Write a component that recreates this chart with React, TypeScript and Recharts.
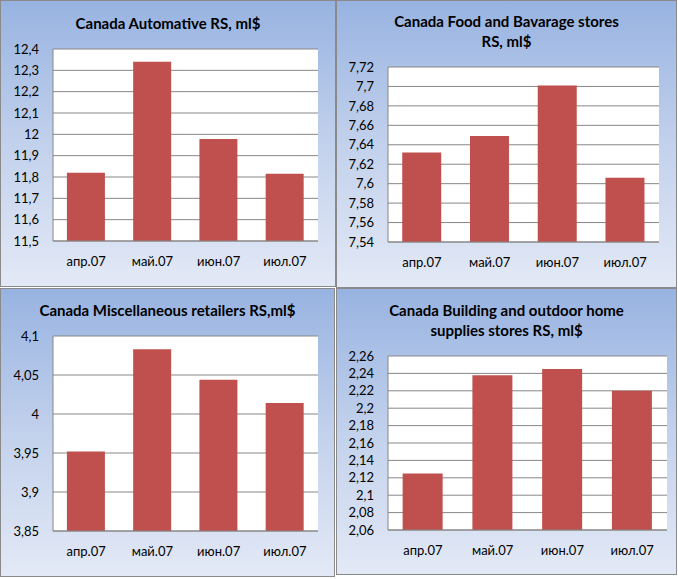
import React from "react";
import { BarChart, Bar, XAxis, YAxis, CartesianGrid } from "recharts";

const months = ["апр.07", "май.07", "июн.07", "июл.07"];

const automotiveValues = [11.82, 12.34, 11.978, 11.815];
const foodValues = [7.632, 7.649, 7.701, 7.606];
const miscValues = [3.952, 4.083, 4.044, 4.014];
const buildingValues = [2.125, 2.238, 2.245, 2.22];

const automotiveTicks = [11.5, 11.6, 11.7, 11.8, 11.9, 12, 12.1, 12.2, 12.3, 12.4];
const foodTicks = [7.54, 7.56, 7.58, 7.6, 7.62, 7.64, 7.66, 7.68, 7.7, 7.72];
const miscTicks = [3.85, 3.9, 3.95, 4, 4.05, 4.1];
const buildingTicks = [2.06, 2.08, 2.1, 2.12, 2.14, 2.16, 2.18, 2.2, 2.22, 2.24, 2.26];

const automotiveTitle = ["Canada Automative RS, ml$"];
const foodTitle = ["Canada Food and Bavarage stores", "RS, ml$"];
const miscTitle = ["Canada Miscellaneous retailers RS,ml$"];
const buildingTitle = ["Canada Building and outdoor home", "supplies stores RS, ml$"];

const FONT = "Lato, 'Open Sans', sans-serif";
const BAR_COLOR = "#c0504d";
const GRID = "#878787";

const fmt = (v: number) => String(v).replace(".", ",");

type PanelProps = {
  left: number;
  top: number;
  width: number;
  height: number;
  title: string[];
  titleTop: number;
  values: number[];
  ticks: number[];
  margin: { top: number; right: number; left: number; bottom: number };
  yWidth: number;
  xHeight: number;
};

function Panel(p: PanelProps) {
  const data = months.map((m, i) => ({ month: m, value: p.values[i] }));
  const domain: [number, number] = [p.ticks[0], p.ticks[p.ticks.length - 1]];
  return (
    <div
      style={{
        position: "absolute",
        left: p.left,
        top: p.top,
        width: p.width,
        height: p.height,
        boxSizing: "border-box",
        border: "1px solid #8a8a8a",
        background: "linear-gradient(to bottom, #98b3e1 0%, #c2d1ec 50%, #e3e9f6 100%)",
        overflow: "hidden",
      }}
    >
      <div
        style={{
          position: "absolute",
          left: 0,
          top: p.titleTop,
          width: "100%",
          textAlign: "center",
          fontFamily: FONT,
          fontWeight: 700,
          fontSize: 15,
          lineHeight: "20px",
          color: "#000",
        }}
      >
        {p.title.map((t, i) => (
          <div key={i}>{t}</div>
        ))}
      </div>
      <div style={{ position: "absolute", left: -1, top: -1 }}>
        <BarChart
          width={p.width}
          height={p.height}
          data={data}
          margin={p.margin}
          barCategoryGap="21%"
        >
          <CartesianGrid
            horizontal={true}
            vertical={false}
            stroke={GRID}
            strokeWidth={1}
            fill="#ffffff"
            fillOpacity={1}
          />
          <XAxis
            dataKey="month"
            height={p.xHeight}
            axisLine={{ stroke: GRID }}
            tickLine={false}
            tickSize={6}
            tickMargin={10}
            tick={{ fill: "#000", fontSize: 13, fontFamily: FONT }}
            interval={0}
          />
          <YAxis
            width={p.yWidth}
            domain={domain}
            ticks={p.ticks}
            interval={0}
            allowDataOverflow={true}
            axisLine={{ stroke: GRID }}
            tickLine={false}
            tickSize={6}
            tickMargin={8}
            tickFormatter={fmt}
            tick={{ fill: "#000", fontSize: 13, fontFamily: FONT }}
          />
          <Bar dataKey="value" fill={BAR_COLOR} isAnimationActive={false} />
        </BarChart>
      </div>
    </div>
  );
}

export default function App() {
  return (
    <div
      style={{
        position: "absolute",
        left: 0,
        top: 0,
        width: 678,
        height: 579,
        background: "#ffffff",
      }}
    >
      <Panel
        left={0}
        top={0}
        width={336}
        height={287}
        title={automotiveTitle}
        titleTop={12}
        values={automotiveValues}
        ticks={automotiveTicks}
        margin={{ top: 49, right: 18, left: 0, bottom: 0 }}
        yWidth={53}
        xHeight={46}
      />
      <Panel
        left={336}
        top={0}
        width={341}
        height={288}
        title={foodTitle}
        titleTop={10}
        values={foodValues}
        ticks={foodTicks}
        margin={{ top: 67, right: 18, left: 0, bottom: 0 }}
        yWidth={52}
        xHeight={46}
      />
      <Panel
        left={0}
        top={288}
        width={335}
        height={289}
        title={miscTitle}
        titleTop={11}
        values={miscValues}
        ticks={miscTicks}
        margin={{ top: 48, right: 17, left: 0, bottom: 0 }}
        yWidth={53}
        xHeight={46}
      />
      <Panel
        left={336}
        top={288}
        width={341}
        height={287}
        title={buildingTitle}
        titleTop={11}
        values={buildingValues}
        ticks={buildingTicks}
        margin={{ top: 68, right: 10, left: 0, bottom: 0 }}
        yWidth={52}
        xHeight={45}
      />
    </div>
  );
}
